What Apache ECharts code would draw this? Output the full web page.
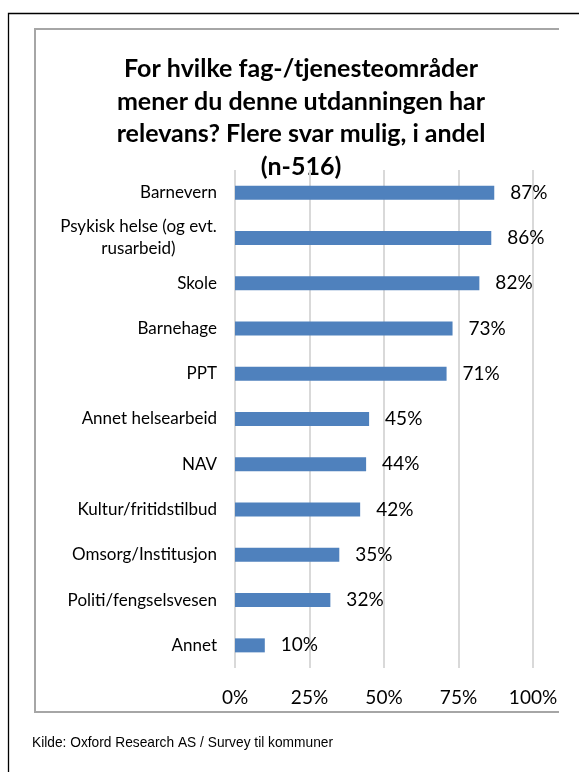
<!DOCTYPE html>
<html lang="no">
<head>
    <meta charset="UTF-8">
    <title>Fag-/tjenesteområder</title>
    <style>
        html, body { margin: 0; padding: 0; background: #fff; }
        #box { width: 579px; height: 772px; }
    </style>
</head>
<body>
    <div id="box"></div>
    <script src="https://cdn.jsdelivr.net/npm/echarts@6/dist/echarts.min.js"></script>
    <script>
        // data
        var categories = ['Barnevern', 'Psykisk helse (og evt.\nrusarbeid)', 'Skole', 'Barnehage', 'PPT',
            'Annet helsearbeid', 'NAV', 'Kultur/fritidstilbud', 'Omsorg/Institusjon', 'Politi/fengselsvesen', 'Annet'];
        var values = [87, 86, 82, 73, 71, 45, 44, 42, 35, 32, 10];
        var tickValues = [0, 25, 50, 75, 100];

        var font = 'Lato';
        var catSize = 17;
        var sourceText = 'Kilde: Oxford Research AS / Survey til kommuner';
        var sourceFont = '15px "Liberation Sans"';

        // measure a few texts so widths can follow the original
        var ctx = document.createElement('canvas').getContext('2d');
        ctx.font = catSize + 'px ' + font;
        var psykW = Math.ceil(ctx.measureText('Psykisk helse (og evt.').width);
        ctx.font = sourceFont;
        var sourceScale = 301 / ctx.measureText(sourceText).width;

        var myChart = echarts.init(document.getElementById('box'));

        var option = {
            animation: false,
            graphic: [
                // outer frame
                { type: 'polyline', shape: { points: [[8.5, 772], [8.5, 13.5], [579, 13.5]] },
                  style: { stroke: '#000', lineWidth: 1.3, fill: null } },
                // chart frame
                { type: 'polyline', shape: { points: [[559, 29], [35, 29], [35, 712], [559, 712]] },
                  style: { stroke: '#a6a6a6', lineWidth: 2, fill: null } },
                { type: 'text', x: 301, y: 53,
                  style: {
                      text: 'For hvilke fag-/tjenesteområder\nmener du denne utdanningen har\nrelevans? Flere svar mulig, i andel\n(n-516)',
                      font: 'bold 25px ' + font, lineHeight: 32.5, fill: '#000',
                      align: 'center', verticalAlign: 'top'
                  } },
                { type: 'text', x: 32, y: 743, scaleX: sourceScale,
                  style: {
                      text: sourceText, font: sourceFont, fill: '#000',
                      align: 'left', verticalAlign: 'middle'
                  } }
            ],
            grid: { left: 235, right: 46, top: 170, height: 498 },
            xAxis: {
                type: 'value', min: 0, max: 100, interval: 25,
                axisLine: { show: false },
                axisTick: { show: false },
                splitLine: { lineStyle: { color: '#d9d9d9', width: 2 } },
                axisLabel: {
                    margin: 20, color: '#000', fontFamily: font, fontSize: 19,
                    formatter: function (v) { return tickValues.indexOf(v) > -1 ? v + '%' : ''; }
                }
            },
            yAxis: {
                type: 'category', inverse: true, data: categories,
                axisLine: { show: false },
                axisTick: { show: false },
                axisLabel: {
                    margin: 18, color: '#000', fontFamily: font, fontSize: catSize,
                    formatter: function (v) {
                        if (v.indexOf('\n') > -1) {
                            return v.split('\n').map(function (s) { return '{c|' + s + '}'; }).join('\n');
                        }
                        return v;
                    },
                    rich: { c: { width: psykW, align: 'center', fontFamily: font, fontSize: catSize, lineHeight: 22, color: '#000' } }
                }
            },
            series: [{
                type: 'bar',
                data: values,
                barWidth: 14,
                itemStyle: { color: '#4f81bd' },
                label: {
                    show: true, position: 'right', distance: 16,
                    color: '#000', fontFamily: font, fontSize: 19,
                    formatter: '{c}%'
                }
            }]
        };
        myChart.setOption(option);
    </script>
</body>
</html>
